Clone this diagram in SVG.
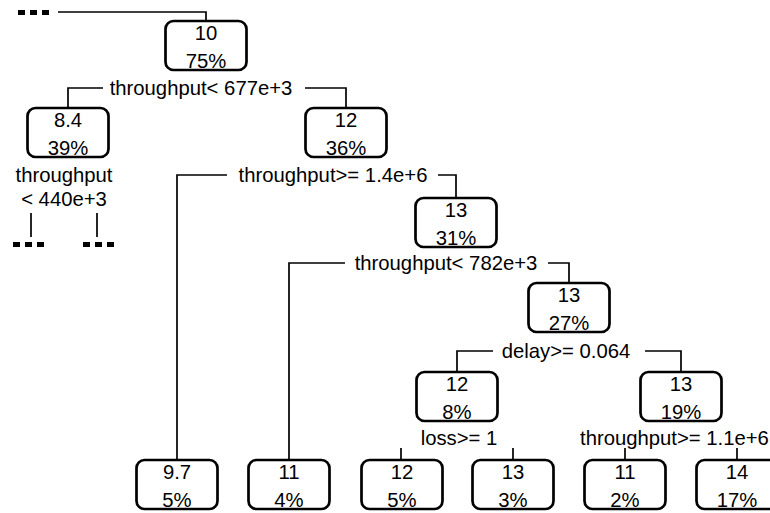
<svg xmlns="http://www.w3.org/2000/svg" width="770" height="513" viewBox="0 0 770 513">
<style>
text{font-family:"Liberation Sans",Arial,sans-serif;font-size:20.3px;fill:#000;text-anchor:middle}
.box{fill:#fff;stroke:#000;stroke-width:2.7}
.ln{fill:none;stroke:#000;stroke-width:1.7}
.dots{fill:none;stroke:#000;stroke-width:5;stroke-dasharray:7 5}
</style>
<defs>
<rect id="b" x="-40.5" y="0" width="81" height="49" rx="8" ry="8" class="box"/>
</defs>
<g id="connectors">
<path class="ln" d="M58,12 H206 V21"/>
<path class="dots" d="M18,12.5 H49"/>
<path class="ln" d="M103,88 H68 V108"/>
<path class="ln" d="M305,88 H346 V108"/>
<path class="ln" d="M227,175 H177 V460"/>
<path class="ln" d="M438,175 H456 V198"/>
<path class="ln" d="M345,263 H289 V460"/>
<path class="ln" d="M548,263 H569 V283"/>
<path class="ln" d="M493,351 H457 V372"/>
<path class="ln" d="M645,351 H681 V372"/>
<path class="ln" d="M401,448 V460 M513,448 V460"/>
<path class="ln" d="M625,448 V460 M737,448 V460"/>
<path class="ln" d="M31,213 V237 M97,213 V237"/>
<path class="dots" d="M13,244.5 H44 M83,244.5 H114"/>
<text x="201" y="95">throughput&lt; 677e+3</text>
<text x="333" y="182">throughput&gt;= 1.4e+6</text>
<text x="446" y="270">throughput&lt; 782e+3</text>
<text x="566" y="358">delay&gt;= 0.064</text>
<text x="64" y="182">throughput</text>
<text x="64" y="206">&lt; 440e+3</text>
<text x="459" y="445">loss&gt;= 1</text>
<text x="580" y="445" style="text-anchor:start">throughput&gt;= 1.1e+6</text>
</g>
<g id="n1" transform="translate(206,21)"><use href="#b"/><text y="19">10</text><text y="47">75%</text></g>
<g id="n2" transform="translate(68,108)"><use href="#b"/><text y="19">8.4</text><text y="47">39%</text></g>
<g id="n3" transform="translate(346,108)"><use href="#b"/><text y="19">12</text><text y="47">36%</text></g>
<g id="n4" transform="translate(456,198)"><use href="#b"/><text y="19">13</text><text y="47">31%</text></g>
<g id="n5" transform="translate(569,283)"><use href="#b"/><text y="19">13</text><text y="47">27%</text></g>
<g id="n6" transform="translate(457,372)"><use href="#b"/><text y="19">12</text><text y="47">8%</text></g>
<g id="n7" transform="translate(681,372)"><use href="#b"/><text y="19">13</text><text y="47">19%</text></g>
<g id="n8" transform="translate(177,460)"><use href="#b"/><text y="19">9.7</text><text y="47">5%</text></g>
<g id="n9" transform="translate(289,460)"><use href="#b"/><text y="19">11</text><text y="47">4%</text></g>
<g id="n10" transform="translate(402,460)"><use href="#b"/><text y="19">12</text><text y="47">5%</text></g>
<g id="n11" transform="translate(513,460)"><use href="#b"/><text y="19">13</text><text y="47">3%</text></g>
<g id="n12" transform="translate(625,460)"><use href="#b"/><text y="19">11</text><text y="47">2%</text></g>
<g id="n13" transform="translate(737,460)"><use href="#b"/><text y="19">14</text><text y="47">17%</text></g>
</svg>
